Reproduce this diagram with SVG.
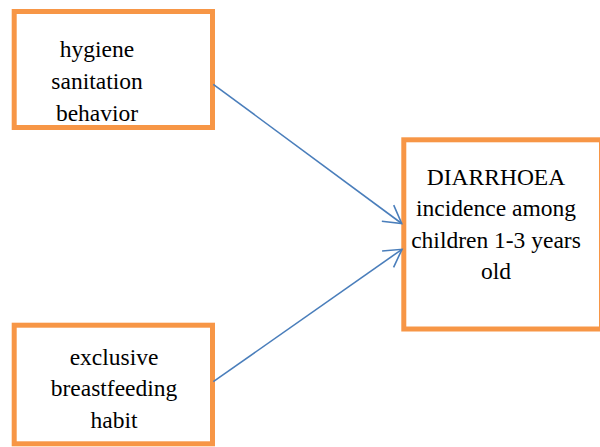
<svg xmlns="http://www.w3.org/2000/svg" width="600" height="447" viewBox="0 0 600 447">
<style>
.box{fill:#fff;stroke:#F79646;stroke-width:5}
.t{font-family:'Liberation Serif','Times New Roman',Times,'DejaVu Serif',serif;font-size:23.5px;fill:#000;text-anchor:middle}
.edge{fill:none;stroke:#4A7EBB;stroke-width:1.6}
</style>
<defs>
<marker id="arr" markerUnits="userSpaceOnUse" markerWidth="24" markerHeight="24" viewBox="-20 -12 22 24" refX="0" refY="0" orient="auto">
<path d="M-17.3,-10 L0,0 L-17.3,10" fill="none" stroke="#4A7EBB" stroke-width="1.6"/>
</marker>
</defs>
<rect width="600" height="447" fill="#fff"/>
<g id="node-hygiene" font-family="Liberation Serif, serif">
<rect class="box" x="14.2" y="11.5" width="198.3" height="116"/>
<text class="t" x="97" y="57">hygiene</text>
<text class="t" x="97" y="89">sanitation</text>
<text class="t" x="97" y="121">behavior</text>
</g>
<g id="node-breastfeeding" font-family="Liberation Serif, serif">
<rect class="box" x="14.2" y="325.2" width="198.3" height="118.6"/>
<text class="t" x="114" y="365">exclusive</text>
<text class="t" x="114" y="396">breastfeeding</text>
<text class="t" x="114" y="428">habit</text>
</g>
<g id="node-diarrhoea" font-family="Liberation Serif, serif">
<rect class="box" x="403.8" y="139.8" width="197.7" height="189.2"/>
<text class="t" x="496" y="185">DIARRHOEA</text>
<text class="t" x="496" y="216">incidence among</text>
<text class="t" x="496" y="248">children 1-3 years</text>
<text class="t" x="496" y="279">old</text>
</g>
<g id="connectors">
<line class="edge" x1="213.3" y1="84.3" x2="401.7" y2="223.5" marker-end="url(#arr)"/>
<line class="edge" x1="213.3" y1="381.7" x2="402" y2="249.3" marker-end="url(#arr)"/>
</g>
</svg>
